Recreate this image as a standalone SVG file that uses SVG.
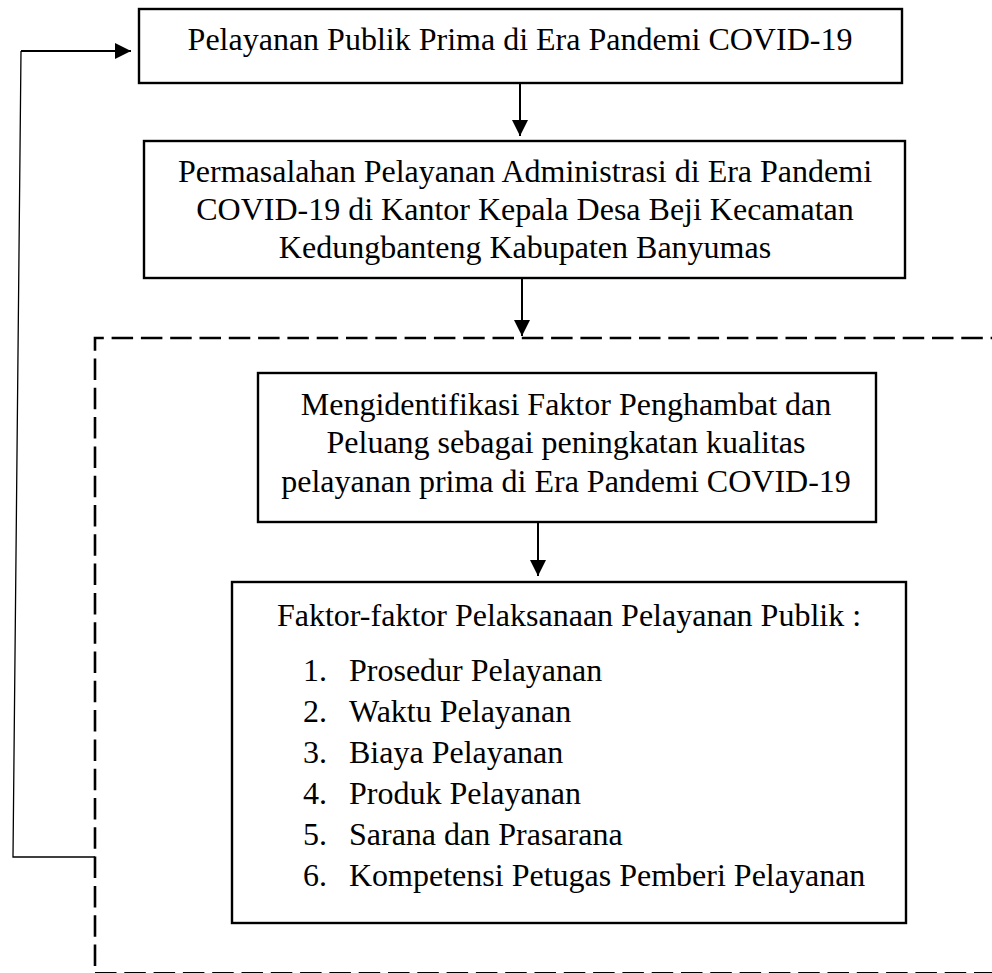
<svg xmlns="http://www.w3.org/2000/svg" width="992" height="973" viewBox="0 0 992 973">
<defs>
<style>
.box{fill:#fff;stroke:#000;stroke-width:2.4}
.t{font-family:"Liberation Serif","Times New Roman",serif;font-size:32px;fill:#000}
.c{text-anchor:middle}
.ln{fill:none;stroke:#000}
.dash{fill:none;stroke:#000;stroke-width:2.6;stroke-dasharray:21.5 7.8}
</style>
<marker id="ah" viewBox="0 0 16 16" refX="16" refY="8" markerWidth="16" markerHeight="16" markerUnits="userSpaceOnUse" orient="auto">
<path d="M0,0 L16,8 L0,16 Z" fill="#000"/>
</marker>
</defs>
<rect width="992" height="973" fill="#fff"/>
<g id="connectors">
<path class="dash" d="M95,966 L95,338 L992,338"/>
<path class="dash" d="M95,973.2 L992,973.2"/>
<path class="ln" stroke-width="1.3" d="M21,51 L13,857 L95,857"/>
<path class="ln" stroke-width="2" d="M21,51 L131,51" marker-end="url(#ah)"/>
<path class="ln" stroke-width="2" d="M520,83 L520,136" marker-end="url(#ah)"/>
<path class="ln" stroke-width="2" d="M522,279 L522,336" marker-end="url(#ah)"/>
<path class="ln" stroke-width="2" d="M538,522 L538,576" marker-end="url(#ah)"/>
</g>
<g id="node1">
<rect class="box" x="139" y="9" width="763" height="74"/>
<text class="t c" x="520" y="50">Pelayanan Publik Prima di Era Pandemi COVID-19</text>
</g>
<g id="node2">
<rect class="box" x="144" y="141" width="761" height="137"/>
<text class="t c" x="525" y="182">Permasalahan Pelayanan Administrasi di Era Pandemi</text>
<text class="t c" x="525" y="220">COVID-19 di Kantor Kepala Desa Beji Kecamatan</text>
<text class="t c" x="525" y="258">Kedungbanteng Kabupaten Banyumas</text>
</g>
<g id="node3">
<rect class="box" x="258" y="373" width="618" height="149"/>
<text class="t c" x="566" y="415">Mengidentifikasi Faktor Penghambat dan</text>
<text class="t c" x="566" y="453">Peluang sebagai peningkatan kualitas</text>
<text class="t c" x="566" y="492">pelayanan prima di Era Pandemi COVID-19</text>
</g>
<g id="node4">
<rect class="box" x="232" y="582" width="674" height="341"/>
<text class="t c" x="569" y="626">Faktor-faktor Pelaksanaan Pelayanan Publik :</text>
<text class="t" x="303" y="681">1.</text><text class="t" x="349" y="681">Prosedur Pelayanan</text>
<text class="t" x="303" y="722">2.</text><text class="t" x="349" y="722">Waktu Pelayanan</text>
<text class="t" x="303" y="763">3.</text><text class="t" x="349" y="763">Biaya Pelayanan</text>
<text class="t" x="303" y="804">4.</text><text class="t" x="349" y="804">Produk Pelayanan</text>
<text class="t" x="303" y="845">5.</text><text class="t" x="349" y="845">Sarana dan Prasarana</text>
<text class="t" x="303" y="886">6.</text><text class="t" x="349" y="886">Kompetensi Petugas Pemberi Pelayanan</text>
</g>
</svg>
